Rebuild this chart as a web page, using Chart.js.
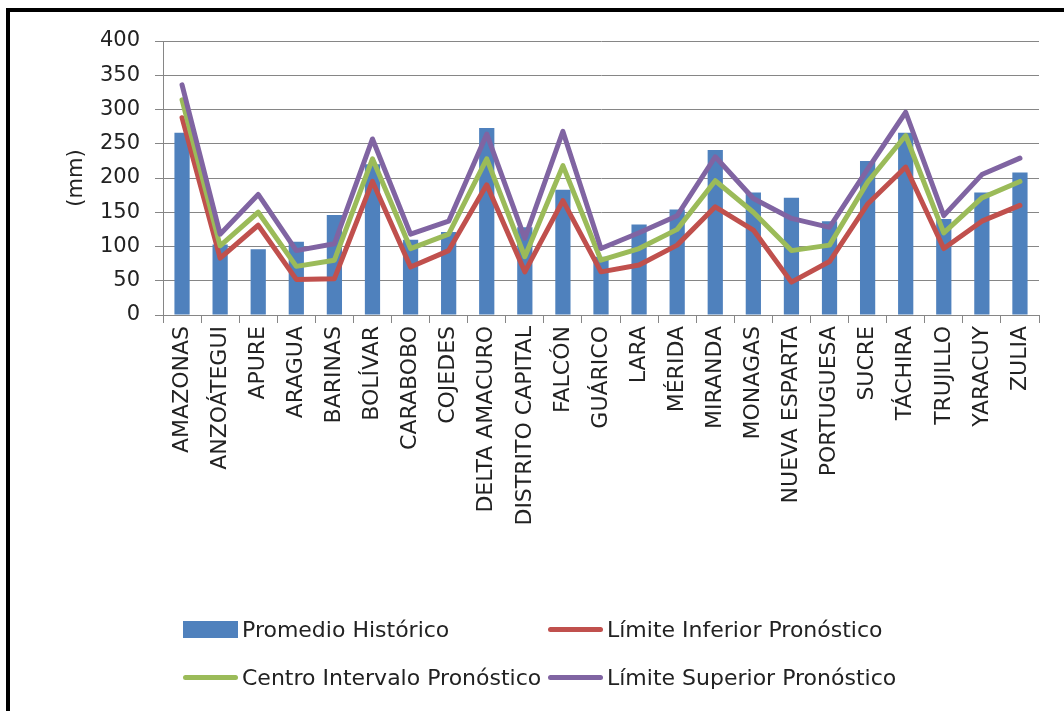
<!DOCTYPE html>
<html><head><meta charset="utf-8">
<script src="https://cdn.jsdelivr.net/npm/chart.js@4.4.1/dist/chart.umd.min.js"></script>
<style>
html,body{margin:0;padding:0;background:#fff;overflow:hidden;}
#wrap{position:relative;width:1064px;height:711px;overflow:hidden;}
#frame{position:absolute;left:6px;top:8px;width:2000px;height:2000px;border-left:4px solid #000;border-top:4px solid #000;box-sizing:border-box;}
canvas{position:absolute;left:0;top:0;}
.li{position:absolute;height:30px;display:flex;align-items:center;font-family:"DejaVu Sans";font-size:22px;color:#222;white-space:nowrap;}
.sw{width:55px;margin-right:4px;}
</style></head>
<body><div id="wrap"><div id="frame"></div><canvas id="c" width="1064" height="711"></canvas><div id="legend"></div></div>
<script>
const categories = ['AMAZONAS','ANZOÁTEGUI','APURE','ARAGUA','BARINAS','BOLÍVAR','CARABOBO','COJEDES','DELTA AMACURO','DISTRITO CAPITAL','FALCÓN','GUÁRICO','LARA','MÉRIDA','MIRANDA','MONAGAS','NUEVA ESPARTA','PORTUGUESA','SUCRE','TÁCHIRA','TRUJILLO','YARACUY','ZULIA'];
const promedioHistorico = [266, 103, 96, 107, 146, 220, 110, 121, 273, 128, 183, 85, 132, 154, 241, 179, 171, 137, 225, 266, 140, 179, 208];
const limiteInferior = [288, 83, 131, 52, 53, 195, 70, 94, 190, 63, 167, 63, 73, 102, 158, 124, 48, 78, 162, 216, 97, 137, 160];
const centroIntervalo = [314, 101, 150, 71, 80, 228, 97, 118, 228, 85, 218, 80, 97, 125, 196, 150, 94, 102, 194, 262, 120, 171, 195];
const limiteSuperior = [336, 118, 176, 94, 104, 257, 118, 137, 264, 112, 268, 97, 120, 145, 231, 170, 141, 128, 213, 296, 145, 205, 229];
const yTicks = [0, 50, 100, 150, 200, 250, 300, 350, 400];
const seriesNames = ['Promedio Histórico','Límite Inferior Pronóstico','Centro Intervalo Pronóstico','Límite Superior Pronóstico'];

const gridColor = '#868686';
const lineDs = (label, data, color, order) => ({
  type: 'line', label, data, borderColor: color, backgroundColor: color,
  borderWidth: 5, pointRadius: 0, tension: 0, order, borderJoinStyle: 'round', borderCapStyle: 'round'
});

const chart = new Chart(document.getElementById('c'), {
  type: 'bar',
  data: {
    labels: categories,
    datasets: [
      { type: 'bar', label: seriesNames[0], data: promedioHistorico, backgroundColor: '#4F81BD', barPercentage: 0.4, categoryPercentage: 1, order: 4 },
      lineDs(seriesNames[1], limiteInferior, '#C0504D', 3),
      lineDs(seriesNames[2], centroIntervalo, '#9BBB59', 2),
      lineDs(seriesNames[3], limiteSuperior, '#8064A2', 1)
    ]
  },
  options: {
    responsive: false, animation: false,
    layout: { padding: { top: 41, right: 25, left: 0, bottom: 0 } },
    plugins: { legend: { display: false }, tooltip: { enabled: false } },
    scales: {
      x: {
        grid: { drawOnChartArea: false, tickLength: 8, color: gridColor, offset: true },
        border: { color: gridColor },
        ticks: { autoSkip: false, maxRotation: 90, minRotation: 90, padding: 3, color: '#222', font: { family: 'DejaVu Sans', size: 22 } },
        afterFit: s => { s.height = 396; }
      },
      y: {
        min: 0, max: 400,
        afterBuildTicks: s => { s.ticks = yTicks.map(v => ({ value: v })); },
        grid: { color: gridColor, tickLength: 8 },
        border: { color: gridColor },
        ticks: { padding: 15, color: '#222', font: { family: 'DejaVu Sans', size: 21 } },
        title: { display: true, text: '(mm)', color: '#222', font: { family: 'DejaVu Sans', size: 21 }, padding: { top: 64, bottom: 0 } },
        afterFit: s => { s.width = 163; }
      }
    }
  }
});

// HTML legend built from the chart datasets
const legend = document.getElementById('legend');
const colX = [183, 548], rowY = [614, 662];
chart.data.datasets.forEach((ds, i) => {
  const item = document.createElement('div');
  item.className = 'li';
  item.style.left = colX[i % 2] + 'px';
  item.style.top = rowY[Math.floor(i / 2)] + 'px';
  const sw = document.createElement('span');
  sw.className = 'sw';
  sw.style.background = ds.backgroundColor;
  sw.style.height = ds.type === 'bar' ? '17px' : '5px';
  if (ds.type !== 'bar') sw.style.borderRadius = '3px';
  item.appendChild(sw);
  item.appendChild(document.createTextNode(ds.label));
  legend.appendChild(item);
});
</script>
</body></html>
